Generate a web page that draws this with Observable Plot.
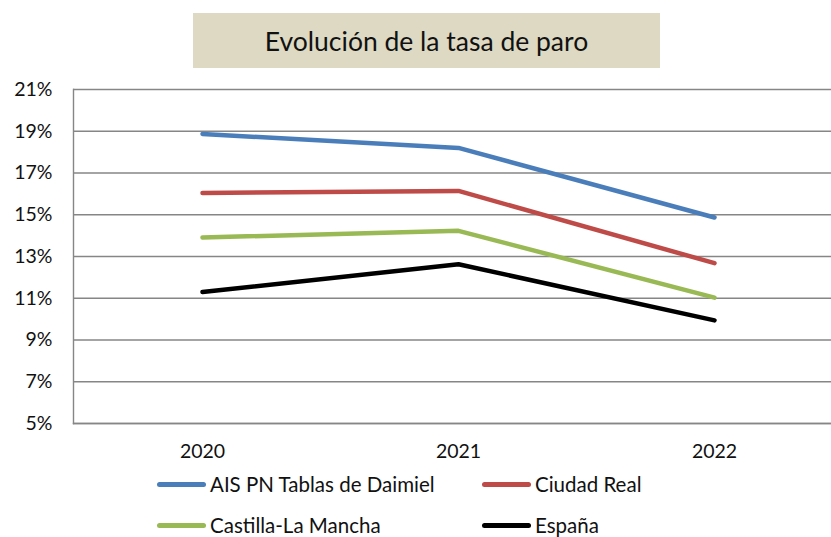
<!DOCTYPE html>
<html>
<head>
<meta charset="utf-8">
<script src="https://cdn.jsdelivr.net/npm/d3@7"></script>
<script src="https://cdn.jsdelivr.net/npm/@observablehq/plot@0.6"></script>
<style>
  body { margin: 0; background: #fff; font-family: Lato, "Open Sans", sans-serif; }
  #wrap { position: relative; width: 831px; height: 537px; overflow: hidden; background: #fff; }
  #title { position: absolute; left: 193px; top: 13px; width: 467px; height: 55px; background: #ddd9c3;
           display: flex; align-items: center; justify-content: center; font-size: 26.5px; color: #111; }
  #chart { position: absolute; left: 0; top: 75px; }
  .leg { position: absolute; display: flex; align-items: center; font-size: 20.5px; color: #111; height: 24px; }
  .sw { width: 49px; height: 5px; border-radius: 3px; margin-right: 4px; }
</style>
</head>
<body>
<div id="wrap">
  <div id="title">Evolución de la tasa de paro</div>
  <div id="chart"></div>
  <div id="legend"></div>
</div>
<script>
const years = ["2020", "2021", "2022"];
const seriesNames = ["AIS PN Tablas de Daimiel", "Ciudad Real", "Castilla-La Mancha", "España"];
const aisValues = [18.87, 18.2, 14.87];
const ciudadRealValues = [16.04, 16.14, 12.68];
const clmValues = [13.91, 14.23, 11.03];
const espanaValues = [11.30, 12.63, 9.94];
const yTicks = [5, 7, 9, 11, 13, 15, 17, 19, 21];
const colors = ["#4a7ebb", "#be4b48", "#98b954", "#000000"];

const allValues = [aisValues, ciudadRealValues, clmValues, espanaValues];
const data = [];
seriesNames.forEach((s, i) => years.forEach((y, j) => data.push({series: s, year: y, value: allValues[i][j]})));

const W = 831, H = 390;
const chart = Plot.plot({
  width: W,
  height: H,
  marginLeft: 73,
  marginRight: 0,
  marginTop: 14,
  marginBottom: 42,
  style: {fontFamily: "Lato, 'Open Sans', sans-serif", fontSize: "19px", color: "#111", background: "transparent"},
  x: {type: "point", domain: years, range: [73, 842], padding: 0.5, label: null},
  y: {domain: [5, 21], label: null},
  color: {domain: seriesNames, range: colors},
  marks: [
    Plot.gridY(yTicks, {stroke: "#868686", strokeOpacity: 1, strokeWidth: 1.4}),
    Plot.frame({anchor: "left", stroke: "#868686", strokeWidth: 1.4}),
    Plot.frame({anchor: "bottom", stroke: "#868686", strokeWidth: 1.4}),
    Plot.axisY(yTicks, {tickSize: 0, tickPadding: 21, tickFormat: d => d + "%", fontSize: 19.5, label: null}),
    Plot.axisX(years, {tickSize: 0, tickPadding: 21, fontSize: 19.5, label: null}),
    Plot.line(data, {x: "year", y: "value", z: "series", stroke: "series", strokeWidth: 4.5,
                     strokeLinecap: "round", strokeLinejoin: "round"})
  ]
});
document.getElementById("chart").appendChild(chart);

const legendPos = [[157, 472], [482, 472], [157, 513], [482, 513]];
const legend = document.getElementById("legend");
seriesNames.forEach((s, i) => {
  const d = document.createElement("div");
  d.className = "leg";
  d.style.left = legendPos[i][0] + "px";
  d.style.top = legendPos[i][1] + "px";
  const sw = document.createElement("div");
  sw.className = "sw";
  sw.style.background = colors[i];
  const t = document.createElement("span");
  t.textContent = s;
  d.appendChild(sw);
  d.appendChild(t);
  legend.appendChild(d);
});
</script>
</body>
</html>
